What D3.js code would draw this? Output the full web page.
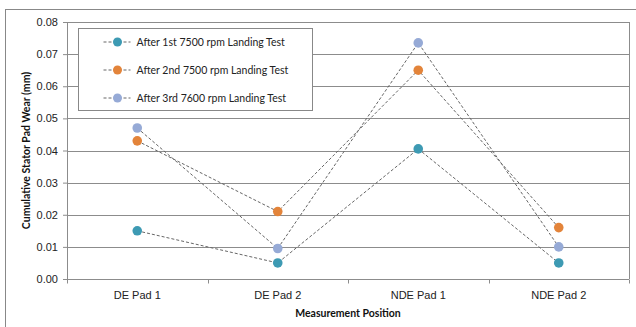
<!DOCTYPE html>
<html>
<head>
<meta charset="utf-8">
<script src="https://cdn.jsdelivr.net/npm/d3@7"></script>
<style>
  body { margin: 0; background: #fff; }
  svg { display: block; font-family: Lato, "Open Sans", sans-serif; }
</style>
</head>
<body>
<div id="chart"></div>
<script>
// DATA
var categories = ["DE Pad 1", "DE Pad 2", "NDE Pad 1", "NDE Pad 2"];
var seriesNames = [
  "After 1st 7500 rpm Landing Test",
  "After 2nd 7500 rpm Landing Test",
  "After 3rd 7600 rpm Landing Test"
];
var first7500 = [0.015, 0.005, 0.0405, 0.005];
var second7500 = [0.043, 0.021, 0.065, 0.016];
var third7600 = [0.047, 0.0095, 0.0735, 0.010];
var yTicks = [0, 0.01, 0.02, 0.03, 0.04, 0.05, 0.06, 0.07, 0.08];
var colors = ["#3d9ab3", "#e3843a", "#96aad6"];

function drawChart() {
  var width = 636, height = 327;
  var margin = { top: 22, right: 7, bottom: 48, left: 67 };
  var innerW = width - margin.left - margin.right,
    innerH = height - margin.top - margin.bottom;

  var series = [first7500, second7500, third7600].map(function (v, i) {
    return { name: seriesNames[i], color: colors[i], values: v };
  });

  var svg = d3
    .select("#chart")
    .append("svg")
    .attr("width", width)
    .attr("height", height);

  // outer chart frame
  svg
    .append("rect")
    .attr("x", 5.5)
    .attr("y", 9.5)
    .attr("width", 640)
    .attr("height", 330)
    .attr("fill", "none")
    .attr("stroke", "#888");

  var g = svg
    .append("g")
    .attr("transform", "translate(" + margin.left + "," + margin.top + ")");

  // SCALES
  var xScale = d3.scaleBand().domain(categories).range([0, innerW]);
  var yScale = d3.scaleLinear().domain([0, 0.08]).range([innerH, 0]);

  // GRIDLINES
  g.selectAll(".grid")
    .data(yTicks.slice(1))
    .enter()
    .append("line")
    .attr("class", "grid")
    .attr("x1", 0)
    .attr("x2", innerW)
    .attr("y1", (d) => Math.round(yScale(d)) + 0.5)
    .attr("y2", (d) => Math.round(yScale(d)) + 0.5)
    .attr("stroke", "#8c8c8c")
    .attr("stroke-width", 1);

  // plot border on the right
  g.append("line")
    .attr("x1", innerW + 0.5)
    .attr("x2", innerW + 0.5)
    .attr("y1", 0)
    .attr("y2", innerH)
    .attr("stroke", "#8c8c8c");

  // Y AXIS
  var yAxis = d3
    .axisLeft(yScale)
    .tickValues(yTicks)
    .tickFormat(d3.format(".2f"))
    .tickSize(4)
    .tickPadding(5);
  var yg = g.append("g").call(yAxis);
  yg.select(".domain").attr("stroke", "#8c8c8c").attr("d", "M0.5,0V" + innerH);
  yg.selectAll(".tick line").attr("stroke", "#8c8c8c");
  yg.selectAll("text").style("font-size", "11px").attr("fill", "#222");

  // X AXIS
  var xAxis = d3.axisBottom(xScale).tickSize(0).tickPadding(12);
  var xg = g
    .append("g")
    .attr("transform", "translate(0," + (Math.round(innerH) + 0.5) + ")")
    .call(xAxis);
  xg.select(".domain").attr("stroke", "#8c8c8c").attr("d", "M0,0H" + innerW);
  xg.selectAll("text").style("font-size", "11px").attr("fill", "#222");
  // band boundary ticks
  xg.selectAll(".band-tick")
    .data(d3.range(categories.length + 1))
    .enter()
    .append("line")
    .attr("x1", (i) => Math.round(i * xScale.step()) + 0.5)
    .attr("x2", (i) => Math.round(i * xScale.step()) + 0.5)
    .attr("y1", 0)
    .attr("y2", 4)
    .attr("stroke", "#8c8c8c");

  // AXIS TITLES
  svg
    .append("text")
    .attr("x", margin.left + innerW / 2)
    .attr("y", 317)
    .attr("text-anchor", "middle")
    .style("font-size", "10.5px")
    .style("font-weight", "bold")
    .attr("fill", "#111")
    .text("Measurement Position");

  svg
    .append("text")
    .attr("transform", "translate(30," + (margin.top + innerH / 2) + ") rotate(-90)")
    .attr("text-anchor", "middle")
    .style("font-size", "10.5px")
    .style("font-weight", "bold")
    .attr("fill", "#111")
    .text("Cumulative Stator Pad Wear (mm)");

  // LINES
  var cx = (i) => xScale(categories[i]) + xScale.bandwidth() / 2;
  var line = d3
    .line()
    .x((d, i) => cx(i))
    .y((d) => yScale(d));

  g.selectAll(".series-line")
    .data(series)
    .enter()
    .append("path")
    .attr("class", "series-line")
    .attr("d", (d) => line(d.values))
    .attr("fill", "none")
    .attr("stroke", "#666")
    .attr("stroke-width", 1)
    .attr("stroke-dasharray", "3,2");

  // MARKERS
  series.forEach(function (s) {
    g.selectAll(null)
      .data(s.values)
      .enter()
      .append("circle")
      .attr("cx", (d, i) => cx(i))
      .attr("cy", (d) => yScale(d))
      .attr("r", 4.8)
      .attr("fill", s.color);
  });

  // LEGEND
  var legend = svg.append("g").attr("transform", "translate(78.5,28.5)");
  legend
    .append("rect")
    .attr("width", 234)
    .attr("height", 82)
    .attr("fill", "#fff")
    .attr("stroke", "#888");

  var items = legend
    .selectAll(".item")
    .data(series)
    .enter()
    .append("g")
    .attr("transform", (d, i) => "translate(0," + (13.5 + i * 28) + ")");
  items
    .append("line")
    .attr("x1", 25)
    .attr("x2", 52)
    .attr("stroke", "#666")
    .attr("stroke-dasharray", "3,2");
  items
    .append("circle")
    .attr("cx", 39)
    .attr("r", 4.5)
    .attr("fill", (d) => d.color);
  items
    .append("text")
    .attr("x", 58)
    .attr("dy", "0.35em")
    .style("font-size", "10.5px")
    .attr("fill", "#222")
    .text((d) => d.name);
}

drawChart();
</script>
</body>
</html>
